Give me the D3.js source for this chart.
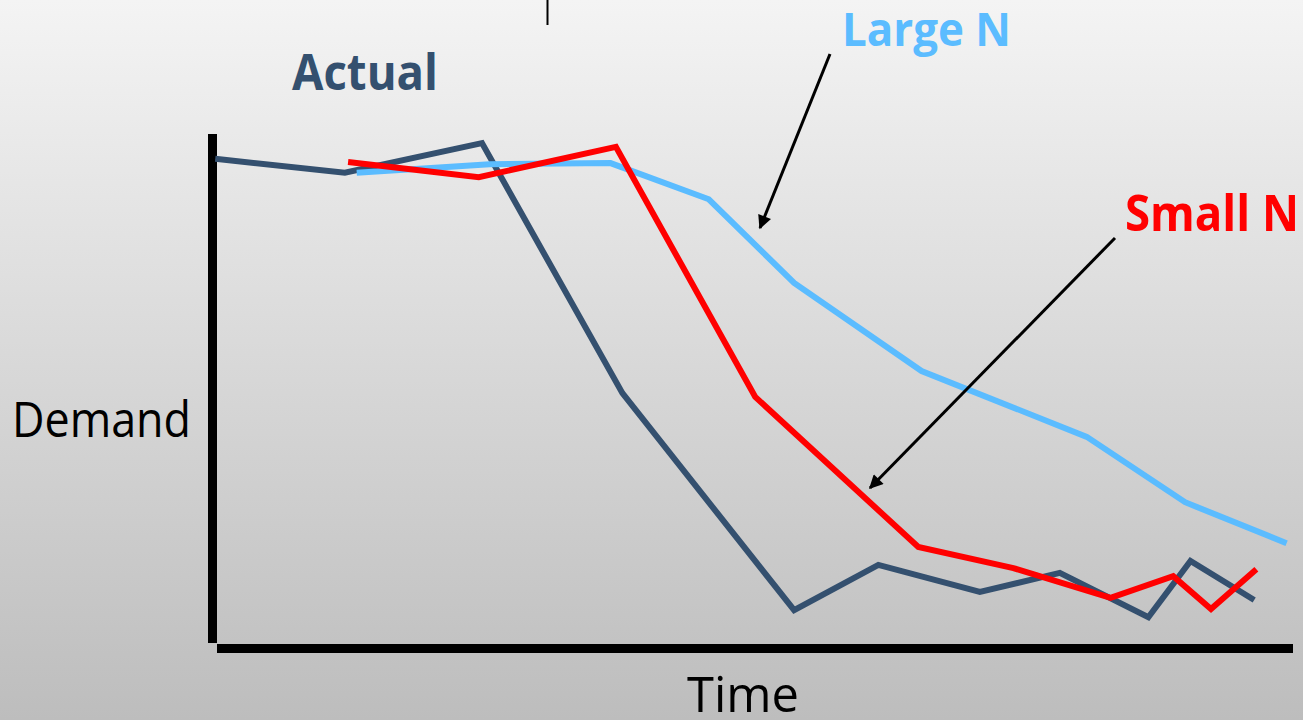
<!DOCTYPE html>
<html>
<head>
<meta charset="utf-8">
<script src="https://cdn.jsdelivr.net/npm/d3@7"></script>
<style>
  html, body { margin: 0; padding: 0; background: #dcdcdc; }
  svg { display: block; }
</style>
</head>
<body>
<svg id="chart" width="1303" height="720"></svg>
<script>
// Demand over time: actual demand and two moving-average forecasts (t in 0..100, demand in 0..100)
const actualT      = [0.3, 12.3, 25.0, 38.0, 53.9, 61.7, 71.1, 78.5, 86.7, 90.6, 96.5];
const actualDemand = [90.6, 88.0, 93.5, 47.2, 7.0, 15.4, 10.4, 13.9, 5.7, 16.1, 8.9];

const smallNT      = [12.6, 24.7, 37.4, 50.3, 65.4, 74.2, 83.2, 89.0, 92.5, 96.7];
const smallNDemand = [90.0, 87.2, 92.8, 46.5, 18.7, 14.8, 9.3, 13.3, 7.2, 14.6];

const largeNT      = [13.4, 25.7, 36.9, 46.0, 53.9, 65.7, 81.0, 90.1, 99.5];
const largeNDemand = [88.0, 89.6, 89.8, 83.1, 67.6, 51.3, 39.1, 27.0, 19.4];

const axisLabels = { x: "Time", y: "Demand" };
const seriesLabels = ["Actual", "Small N", "Large N"];

const svg = d3.select("#chart");
const W = 1303, H = 720;

// soft grey vertical gradient backdrop
const defs = svg.append("defs");
const grad = defs.append("linearGradient").attr("id", "bg").attr("x1", 0).attr("y1", 0).attr("x2", 0).attr("y2", 1);
grad.append("stop").attr("offset", "0%").attr("stop-color", "#f4f4f4");
grad.append("stop").attr("offset", "100%").attr("stop-color", "#bdbdbd");
svg.append("rect").attr("width", W).attr("height", H).attr("fill", "url(#bg)");

const marker = defs.append("marker")
  .attr("id", "arrowhead").attr("viewBox", "0 0 10 10")
  .attr("refX", 9).attr("refY", 5)
  .attr("markerWidth", 5.2).attr("markerHeight", 4.6)
  .attr("markerUnits", "strokeWidth")
  .attr("orient", "auto");
marker.append("path").attr("d", "M0,0 L10,5 L0,10 Z").attr("fill", "#000");

const x = d3.scaleLinear().domain([0, 100]).range([212, 1292]);
const y = d3.scaleLinear().domain([0, 100]).range([648, 108]);

// axes: heavy bars without ticks
svg.append("line").attr("x1", 212.5).attr("x2", 212.5).attr("y1", 134).attr("y2", 643)
  .attr("stroke", "#000").attr("stroke-width", 9);
svg.append("line").attr("x1", 217).attr("x2", 1293).attr("y1", 648.5).attr("y2", 648.5)
  .attr("stroke", "#000").attr("stroke-width", 9);

// small marker at the top edge
svg.append("line").attr("x1", 547.5).attr("x2", 547.5).attr("y1", 0).attr("y2", 25)
  .attr("stroke", "#000").attr("stroke-width", 2);

const line = d3.line().x(d => x(d[0])).y(d => y(d[1]));

const series = [
  { t: actualT, v: actualDemand, color: "#34506f" },
  { t: largeNT, v: largeNDemand, color: "#5bbcff" },
  { t: smallNT, v: smallNDemand, color: "#ff0000" }
];
series.forEach(s => {
  svg.append("path")
    .datum(d3.zip(s.t, s.v))
    .attr("d", line)
    .attr("fill", "none")
    .attr("stroke", s.color)
    .attr("stroke-width", 6)
    .attr("stroke-linejoin", "miter");
});

// pointer arrows from the labels to their forecasts
svg.append("line").attr("x1", 830).attr("y1", 54).attr("x2", 760).attr("y2", 228)
  .attr("stroke", "#000").attr("stroke-width", 3).attr("marker-end", "url(#arrowhead)");
svg.append("line").attr("x1", 1115).attr("y1", 238).attr("x2", 870).attr("y2", 488)
  .attr("stroke", "#000").attr("stroke-width", 3).attr("marker-end", "url(#arrowhead)");

const font = "'Open Sans', 'Noto Sans', sans-serif";
function label(txt, lx, ly, size, weight, color, len) {
  svg.append("text").text(txt)
    .attr("x", lx).attr("y", ly)
    .attr("font-family", font).attr("font-size", size).attr("font-weight", weight)
    .attr("fill", color)
    .attr("textLength", len).attr("lengthAdjust", "spacingAndGlyphs");
}
label(seriesLabels[0], 292, 90, 50, 700, "#34506f", 146);
label(seriesLabels[2], 842, 46, 47, 700, "#5bbcff", 169);
label(seriesLabels[1], 1125, 231, 51, 700, "#ff0000", 174);
label(axisLabels.y, 12, 437, 49, 400, "#000", 179);
label(axisLabels.x, 687, 712, 50, 400, "#000", 112);
</script>
</body>
</html>
